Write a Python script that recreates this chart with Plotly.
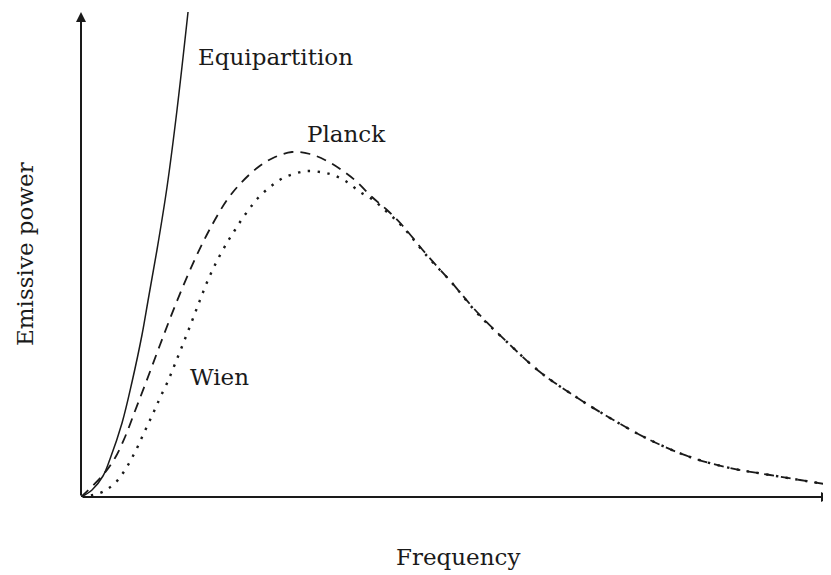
import plotly.graph_objects as go

# Frequency (arbitrary units) and emissive power (arbitrary units)
planck_x = [0, 0.293, 0.453, 0.587, 0.72, 0.853, 1.053, 1.28, 1.52, 1.747, 1.947, 2.12, 2.347,
            2.56, 2.813, 3.053, 3.28, 3.493, 3.68, 3.88, 4.08, 4.28, 4.613, 4.947, 5.28, 5.68,
            6.12, 6.56, 7.053, 7.587, 8.12, 8.653, 9.187, 9.587, 10.0]
planck_y = [0, 0.22, 0.39, 0.60, 0.86, 1.12, 1.52, 1.96, 2.38, 2.72, 2.97, 3.13, 3.29,
            3.39, 3.45, 3.43, 3.36, 3.26, 3.15, 3.00, 2.87, 2.72, 2.42, 2.14, 1.85, 1.55,
            1.25, 1.02, 0.79, 0.57, 0.40, 0.29, 0.22, 0.17, 0.12]

wien_x = [0, 0.253, 0.373, 0.48, 0.56, 0.627, 0.693, 0.76, 0.827, 0.92, 0.987, 1.053, 1.16,
          1.253, 1.36, 1.48, 1.587, 1.693, 1.813, 1.96, 2.053, 2.147, 2.253, 2.36, 2.52, 2.693,
          2.88, 3.013, 3.187, 3.36, 3.547, 3.72, 3.88, 4.08, 4.28, 4.613, 4.947, 5.28, 5.68,
          6.12, 6.56, 7.053, 7.587, 8.12, 8.653, 9.187, 9.587, 10.0]
wien_y = [0, 0.04, 0.09, 0.16, 0.24, 0.32, 0.41, 0.51, 0.62, 0.77, 0.88, 0.99, 1.16,
          1.33, 1.53, 1.76, 1.97, 2.17, 2.36, 2.56, 2.67, 2.78, 2.89, 2.99, 3.10, 3.19,
          3.24, 3.26, 3.25, 3.22, 3.15, 3.05, 2.98, 2.85, 2.71, 2.41, 2.14, 1.84, 1.55,
          1.25, 1.02, 0.79, 0.57, 0.40, 0.29, 0.22, 0.17, 0.12]

equip_x = [0, 0.147, 0.293, 0.387, 0.547, 0.68, 0.813, 0.893, 1.013, 1.147, 1.28, 1.427]
equip_y = [0, 0.07, 0.21, 0.38, 0.74, 1.15, 1.62, 1.96, 2.47, 3.10, 3.87, 4.85]

labels = ["Equipartition", "Planck", "Wien"]
label_x = [2.593, 3.54, 1.84]
label_y = [4.40, 3.63, 1.20]

x_title = "Frequency"
y_title = "Emissive power"

XMAX, YMAX = 10.0, 4.85
FONT = "DejaVu Serif"
INK = "#1a1a1a"

fig = go.Figure()
fig.add_trace(go.Scatter(x=equip_x, y=equip_y, mode="lines",
                         line=dict(color=INK, width=1.5, shape="spline")))
fig.add_trace(go.Scatter(x=planck_x, y=planck_y, mode="lines",
                         line=dict(color=INK, width=1.8, dash="10px,7px", shape="spline")))
fig.add_trace(go.Scatter(x=wien_x, y=wien_y, mode="lines",
                         line=dict(color=INK, width=2.4, dash="2.4px,7.5px", shape="spline")))

ann = []
for t, x, y in zip(labels, label_x, label_y):
    ann.append(dict(x=x, y=y, xref="x", yref="y", text=t, showarrow=False,
                    xanchor="center", yanchor="middle",
                    font=dict(family=FONT, size=23, color=INK)))
ann.append(dict(x=0.5033, y=-0.1237, xref="paper", yref="paper", text=x_title,
                showarrow=False, xanchor="center", yanchor="middle",
                font=dict(family=FONT, size=23, color=INK)))
ann.append(dict(x=-0.0747, y=0.501, xref="paper", yref="paper", text=y_title,
                showarrow=False, textangle=-90, xanchor="center", yanchor="middle",
                font=dict(family=FONT, size=23, color=INK)))
# axes with arrowheads
ann.append(dict(x=0, y=YMAX, ax=0, ay=0, xref="x", yref="y", axref="x", ayref="y", text="",
                showarrow=True, arrowhead=2, arrowsize=1, arrowwidth=2, arrowcolor=INK))
ann.append(dict(x=XMAX, y=0, ax=0, ay=0, xref="x", yref="y", axref="x", ayref="y", text="",
                showarrow=True, arrowhead=2, arrowsize=1, arrowwidth=2, arrowcolor=INK))

fig.update_layout(
    width=823, height=567,
    margin=dict(l=73, r=0, t=4, b=78),
    paper_bgcolor="white", plot_bgcolor="white",
    showlegend=False,
    annotations=ann,
    xaxis=dict(range=[0, XMAX], showgrid=False, zeroline=False, showticklabels=False,
               ticks="", showline=False),
    yaxis=dict(range=[0, YMAX], showgrid=False, zeroline=False, showticklabels=False,
               ticks="", showline=False),
)

fig.write_html("out.html")
